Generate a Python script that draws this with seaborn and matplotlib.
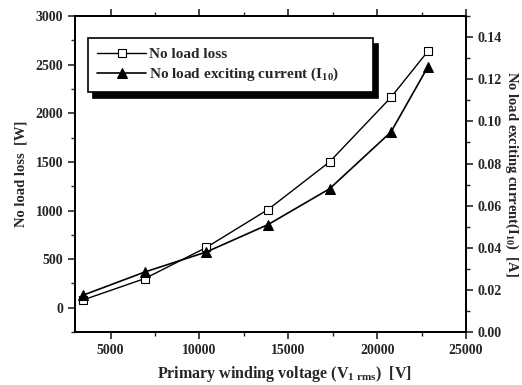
import numpy as np
import pandas as pd
import matplotlib
matplotlib.use("Agg")
import matplotlib.pyplot as plt
import seaborn as sns
from matplotlib.ticker import MultipleLocator

# data
voltage = [3460, 6930, 10390, 13860, 17320, 20780, 22860]
loss = [80, 300, 620, 1010, 1500, 2165, 2640]
current = [0.0175, 0.0285, 0.038, 0.051, 0.068, 0.095, 0.126]

df = pd.DataFrame({"voltage": voltage, "loss": loss, "current": current})

sns.set_style("ticks")
plt.rcParams["font.family"] = ["Liberation Serif", "DejaVu Serif"]
plt.rcParams["font.weight"] = "bold"
plt.rcParams["mathtext.fontset"] = "custom"
plt.rcParams["mathtext.rm"] = "Liberation Serif:bold"
plt.rcParams["mathtext.it"] = "Liberation Serif:bold"

fig = plt.figure(figsize=(5.22, 3.85), dpi=100)
ax = fig.add_axes([0.1437, 0.1377, 0.749, 0.8203])
ax2 = ax.twinx()

# No load loss (left axis)
sns.lineplot(data=df, x="voltage", y="loss", ax=ax, color="black", lw=1.0,
             marker="s", markersize=6, markerfacecolor="white",
             markeredgecolor="black", markeredgewidth=0.8,
             label="No load loss", legend=False)

# exciting current (right axis)
sns.lineplot(data=df, x="voltage", y="current", ax=ax2, color="black", lw=1.2,
             marker="^", markersize=7, markerfacecolor="black",
             markeredgecolor="black",
             label="No load exciting current (I$_{10}$)", legend=False)

ax.set_xlim(3000, 25000)
ax.set_ylim(-250, 3000)
ax2.set_ylim(0, 0.15)

ax.xaxis.set_major_locator(MultipleLocator(5000))
ax.xaxis.set_minor_locator(MultipleLocator(2500))
ax.yaxis.set_major_locator(MultipleLocator(500))
ax.yaxis.set_minor_locator(MultipleLocator(250))
ax2.yaxis.set_major_locator(MultipleLocator(0.02))
ax2.yaxis.set_minor_locator(MultipleLocator(0.01))
ax2.yaxis.set_major_formatter(matplotlib.ticker.FormatStrFormatter("%.2f"))

ax.tick_params(axis="x", which="both", direction="out", top=True,
               labelsize=10)
ax.tick_params(axis="x", which="major", length=5, width=1.2)
ax.tick_params(axis="x", which="minor", length=3, width=1.0)
ax.tick_params(axis="y", which="major", length=5, width=1.2, labelsize=10)
ax.tick_params(axis="y", which="minor", length=3, width=1.0)
ax2.tick_params(axis="y", which="major", length=5, width=1.2, labelsize=10)
ax2.tick_params(axis="y", which="minor", length=3, width=1.0)

for a in (ax, ax2):
    for s in a.spines.values():
        s.set_visible(True)
        s.set_linewidth(1.3)
        s.set_color("black")

ax.set_xlabel("Primary winding voltage (V$_{1\\ rms}$)  [V]", fontsize=11.5,
              fontweight="bold")
ax.xaxis.set_label_coords(0.535, -0.1)
ax.set_ylabel("No load loss  [W]", fontsize=10.5, fontweight="bold",
              labelpad=6)
ax2.set_ylabel("No load exciting current(I$_{10}$)  [A]", fontsize=10.5,
               fontweight="bold", rotation=-90, labelpad=13)

h1, l1 = ax.get_legend_handles_labels()
h2, l2 = ax2.get_legend_handles_labels()
leg = ax2.legend(h1 + h2, l1 + l2, loc="upper left", mode="expand",
                 bbox_to_anchor=(0.033, 0.5, 0.729, 0.43), fancybox=False,
                 shadow={"color": "black", "alpha": 1, "ox": 4, "oy": -4},
                 edgecolor="black", framealpha=1, fontsize=11,
                 handlelength=3.2, borderpad=0.6, labelspacing=0.3,
                 handletextpad=0.2, borderaxespad=0)
leg.get_frame().set_linewidth(1.2)

fig.savefig("out.png", dpi=100)
